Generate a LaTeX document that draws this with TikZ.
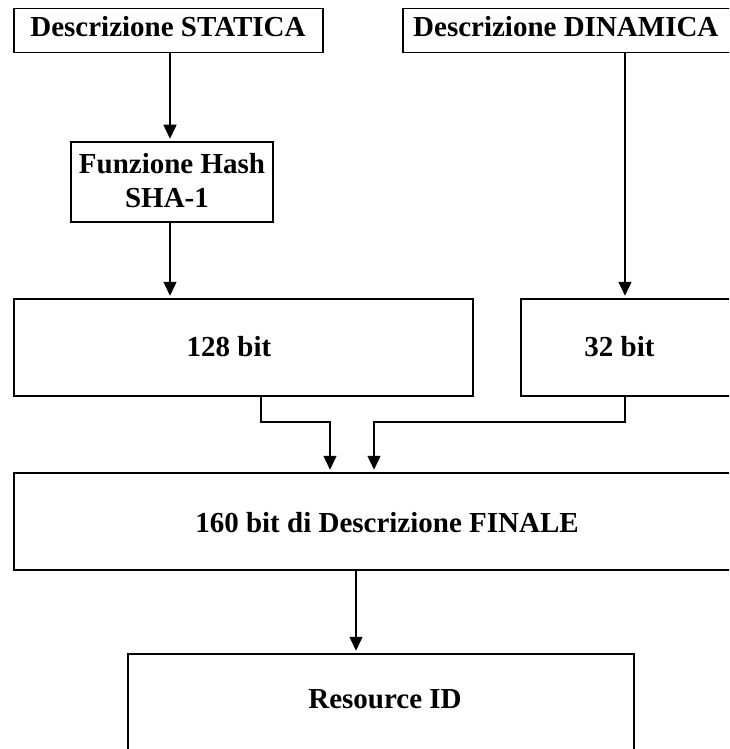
\documentclass[tikz,border=0pt]{standalone}
\usepackage{fontspec}
\setmainfont{Liberation Serif}
\usetikzlibrary{arrows.meta}
\begin{document}
\begin{tikzpicture}[x=1pt,y=-1pt,
  box/.style={draw, rectangle, line width=1.5pt, inner sep=0pt},
  lbl/.style={font=\bfseries\fontsize{29}{34}\selectfont, inner sep=0pt, anchor=base},
  arr/.style={line width=1.5pt, -{Triangle[length=14pt,width=13pt]}, shorten >=2.5pt}]
\useasboundingbox (0,0) rectangle (729,749);
\fill[white] (0,0) rectangle (729,749);
\clip (0,0) rectangle (729,749);

% boxes
\node[box, minimum width=309pt, minimum height=44pt] (b1) at (168.5,30.3) {};
\node[box, minimum width=347pt, minimum height=44pt] (b2) at (576.5,30.3) {};
\node[box, minimum width=202pt, minimum height=80pt] (hash) at (172,182) {};
\node[box, minimum width=459pt, minimum height=97pt] (b128) at (243.5,347.5) {};
\node[box, minimum width=224pt, minimum height=97pt] (b32) at (633,347.5) {};
\node[box, minimum width=746pt, minimum height=97pt] (fin) at (387,521.5) {};
\node[box, minimum width=506pt, minimum height=146pt] (res) at (381,727) {};

% labels
\node[lbl] (t1) at (168,37) {Descrizione STATICA};
\node[lbl, anchor=base west] (t2) at (413,37) {Descrizione DINAMICA};
\node[lbl] (th1) at (172,173) {Funzione Hash};
\node[lbl] (th2) at (167,207) {SHA-1};
\node[lbl] (t128) at (229,356) {128 bit};
\node[lbl] (t32) at (619.5,356) {32 bit};
\node[lbl] (tfin) at (387,532) {160 bit di Descrizione FINALE};
\node[lbl] (tres) at (385,708) {Resource ID};

% connector routes
\coordinate (xa) at (170,0);
\coordinate (xb) at (625,0);
\coordinate (xc) at (356,0);
\coordinate (ja) at (261,422);
\coordinate (jb) at (330,422);
\coordinate (jc) at (625,422);
\coordinate (jd) at (374,422);

\draw[arr] (b1.south -| xa) -- (hash.north -| xa);
\draw[arr] (hash.south -| xa) -- (b128.north -| xa);
\draw[arr] (b2.south -| xb) -- (b32.north -| xb);
\draw[arr] (b128.south -| ja) -- (ja) -- (jb) -- (fin.north -| jb);
\draw[arr] (b32.south -| jc) -- (jc) -- (jd) -- (fin.north -| jd);
\draw[arr] (fin.south -| xc) -- (res.north -| xc);
\end{tikzpicture}
\end{document}
